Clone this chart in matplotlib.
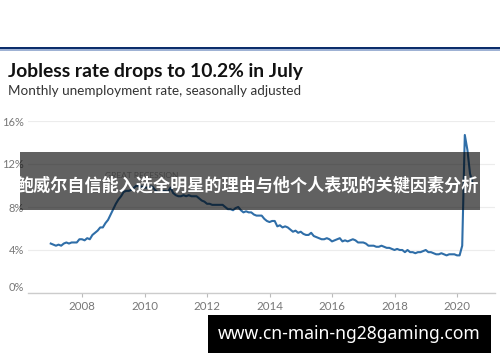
import numpy as np
import matplotlib.pyplot as plt
from matplotlib.patches import Rectangle

# monthly unemployment rate, Jan 2007 - Jul 2020
rate_2007 = [4.6, 4.5, 4.4, 4.5, 4.4, 4.6, 4.7, 4.6, 4.7, 4.7, 4.7, 5.0]
rate_2008 = [5.0, 4.9, 5.1, 5.0, 5.4, 5.6, 5.8, 6.1, 6.1, 6.5, 6.8, 7.3]
rate_2009 = [7.8, 8.3, 8.7, 9.0, 9.4, 9.5, 9.5, 9.6, 9.8, 10.0, 9.9, 9.9]
rate_2010 = [9.8, 9.8, 9.9, 9.9, 9.6, 9.4, 9.4, 9.5, 9.5, 9.4, 9.8, 9.3]
rate_2011 = [9.1, 9.0, 9.0, 9.1, 9.0, 9.1, 9.0, 9.0, 9.0, 8.8, 8.6, 8.5]
rate_2012 = [8.3, 8.3, 8.2, 8.2, 8.2, 8.2, 8.2, 8.0, 7.8, 7.8, 7.7, 7.9]
rate_2013 = [8.0, 7.7, 7.5, 7.6, 7.5, 7.5, 7.3, 7.2, 7.2, 7.2, 6.9, 6.7]
rate_2014 = [6.6, 6.7, 6.7, 6.2, 6.3, 6.1, 6.2, 6.1, 5.9, 5.7, 5.8, 5.6]
rate_2015 = [5.7, 5.5, 5.4, 5.4, 5.6, 5.3, 5.2, 5.1, 5.0, 5.0, 5.1, 5.0]
rate_2016 = [4.8, 4.9, 5.0, 5.1, 4.8, 4.9, 4.8, 4.9, 5.0, 4.9, 4.7, 4.7]
rate_2017 = [4.7, 4.6, 4.4, 4.4, 4.4, 4.3, 4.3, 4.4, 4.3, 4.2, 4.2, 4.1]
rate_2018 = [4.0, 4.1, 4.0, 4.0, 3.8, 4.0, 3.8, 3.8, 3.7, 3.8, 3.8, 3.9]
rate_2019 = [4.0, 3.8, 3.8, 3.7, 3.6, 3.6, 3.7, 3.6, 3.5, 3.6, 3.6, 3.6]
rate_2020 = [3.5, 3.5, 4.4, 14.7, 13.3, 11.1, 10.2]

rates = (rate_2007 + rate_2008 + rate_2009 + rate_2010 + rate_2011 + rate_2012
         + rate_2013 + rate_2014 + rate_2015 + rate_2016 + rate_2017 + rate_2018
         + rate_2019 + rate_2020)
start_year = 2007
x_ticks = [2008, 2010, 2012, 2014, 2016, 2018, 2020]
y_ticks = [0, 4, 8, 12, 16]

title = "Jobless rate drops to 10.2% in July"
subtitle = "Monthly unemployment rate, seasonally adjusted"
banner = "鲍威尔自信能入选全明星的理由与他个人表现的关键因素分析"
site = "www.cn-main-ng28gaming.com"

plt.rcParams['font.family'] = ['Lato', 'DejaVu Sans']

W, H = 500, 362
fig = plt.figure(figsize=(W / 100, H / 100), dpi=100)

def fx(px):
    return px / W

def fy(py):
    return 1 - py / H

# top rule
fig.add_artist(Rectangle((0, fy(49)), 1, 2.3 / H, transform=fig.transFigure,
                         color='#0c2d6b', lw=0))
fig.add_artist(Rectangle((0, fy(51)), 1, 2 / H, transform=fig.transFigure,
                         color='#9fb2d4', lw=0))

fig.text(fx(8), fy(71), title, fontsize=13.9, fontweight='bold', color='#111111',
         va='center', ha='left')
fig.text(fx(8), fy(91), subtitle, fontsize=9.7, color='#333333',
         va='center', ha='left')

ax = fig.add_axes([fx(28), fy(293), fx(495) - fx(28), fy(121) - fy(293)])
months = start_year + np.arange(len(rates)) / 12
ax.plot(months, rates, color='#2f6ea8', lw=1.5, zorder=3)

ax.set_xlim(2008 + (28 - 82) / 31.25, 2008 + (495 - 82) / 31.25)
ax.set_ylim(0, 16)
ax.set_yticks(y_ticks)
ax.set_yticklabels([f"{v}%" for v in y_ticks])
ax.set_xticks(x_ticks)
ax.set_xticklabels([str(v) for v in x_ticks])
ax.grid(axis='y', color='#ececec', lw=0.8)
ax.set_axisbelow(True)
for s in ['top', 'right', 'left']:
    ax.spines[s].set_visible(False)
ax.spines['bottom'].set_color('#cccccc')
ax.spines['bottom'].set_linewidth(1)
ax.tick_params(axis='y', length=0, pad=3, labelsize=8, labelcolor='#777777')
ax.tick_params(axis='x', length=3, color='#bbbbbb', pad=3, labelsize=8.3,
               labelcolor='#777777')
ax.get_yticklabels()[0].set_verticalalignment('bottom')

ax.text(2009.9, 10.9, "GREAT RECESSION", fontsize=6, color='#b0b0b0',
        ha='center', va='center')

# overlay banner
fig.add_artist(Rectangle((fx(20), fy(210)), fx(480) - fx(20), fy(152) - fy(210),
                         transform=fig.transFigure, color='black', alpha=0.62,
                         lw=0, zorder=5))
fig.text(fx(248), fy(186), banner, fontsize=12.3, fontweight='bold', color='white',
         ha='center', va='center', family=['Noto Sans CJK SC', 'DejaVu Sans'],
         zorder=6)

fig.add_artist(Rectangle((fx(208), fy(353)), fx(491) - fx(208), fy(315) - fy(353),
                         transform=fig.transFigure, color='black', lw=0, zorder=5))
fig.text(fx(349), fy(334), site, fontsize=12.6, fontweight='bold', color='white',
         ha='center', va='center', family=['Noto Sans', 'DejaVu Sans'], zorder=6)

fig.savefig('out.png', dpi=100)
